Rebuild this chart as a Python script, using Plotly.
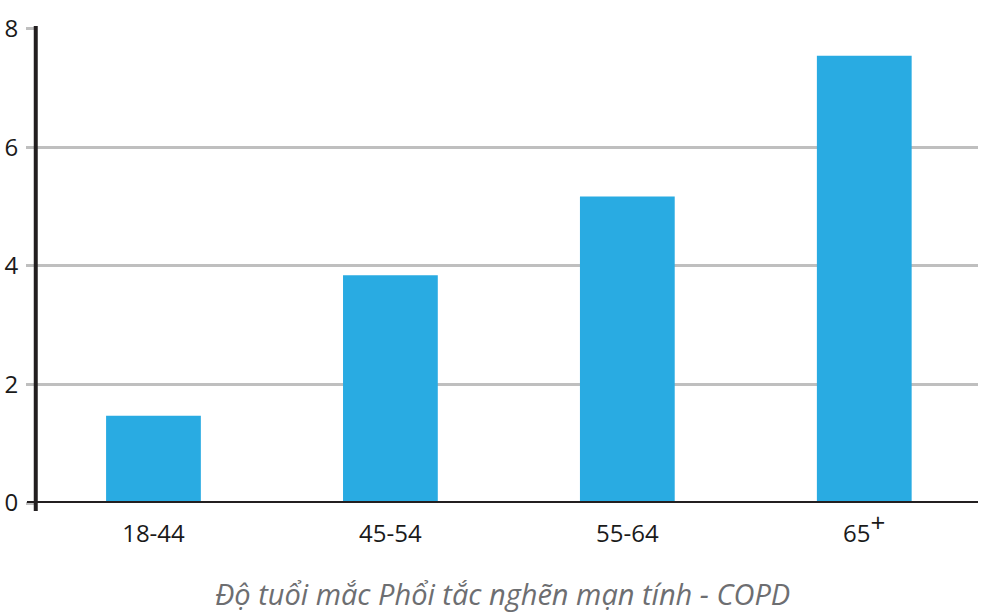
import plotly.graph_objects as go

# data
age_groups = ["18-44", "45-54", "55-64",
              "65<sup><span style='font-size:26px'>+</span></sup>"]
copd_rates = [1.47, 3.84, 5.17, 7.54]
y_ticks = [0, 2, 4, 6, 8]

BAR = "#29abe2"
AXIS = "#231f20"
GRID = "#bfbfbf"
TITLE_GREY = "#6d6e71"
FONT = "Open Sans, Noto Sans, sans-serif"

fig = go.Figure(
    go.Bar(
        x=age_groups,
        y=copd_rates,
        marker=dict(color=BAR, line=dict(width=0)),
        hoverinfo="y",
    )
)

fig.update_layout(
    width=1004,
    height=615,
    paper_bgcolor="white",
    plot_bgcolor="white",
    margin=dict(l=35, r=26, t=28, b=112, autoexpand=False),
    bargap=0.6,
    showlegend=False,
    font=dict(family=FONT, color="#1a1a1a", size=24),
    xaxis=dict(
        range=[-0.5, 3.48],
        automargin=False,
        showgrid=False,
        showline=False,
        zeroline=False,
        ticks="",
        ticklabelstandoff=14,
        tickfont=dict(size=24, color="#1a1a1a"),
    ),
    yaxis=dict(
        range=[0, 8.01],
        automargin=False,
        tickvals=y_ticks,
        showgrid=True,
        gridcolor=GRID,
        gridwidth=3,
        zeroline=False,
        showline=False,
        ticks="outside",
        ticklen=8,
        tickwidth=3,
        tickcolor=GRID,
        ticklabelstandoff=3,
        tickfont=dict(size=24, color="#1a1a1a"),
    ),
    shapes=[
        # vertical axis line, runs a little past the baseline
        dict(type="line", xref="paper", yref="paper",
             x0=0.0008, x1=0.0008, y0=-0.017, y1=1.004,
             line=dict(color=AXIS, width=4), layer="above"),
        # baseline
        dict(type="line", xref="paper", yref="y",
             x0=-0.0085, x1=1.0, y0=0, y1=0,
             line=dict(color=AXIS, width=4), layer="above"),
    ],
    annotations=[
        dict(
            text="<i>Độ tuổi mắc Phổi tắc nghẽn mạn tính - COPD</i>",
            xref="paper", yref="paper",
            x=0.496, y=-0.19,
            xanchor="center", yanchor="middle",
            showarrow=False,
            font=dict(size=29, color=TITLE_GREY, family=FONT),
        )
    ],
)

# drop the default 8px body margin so the figure sits at the window corner
fig.write_html(
    "out.html",
    config={"displayModeBar": False},
    post_script="document.body.style.margin='0';",
)
